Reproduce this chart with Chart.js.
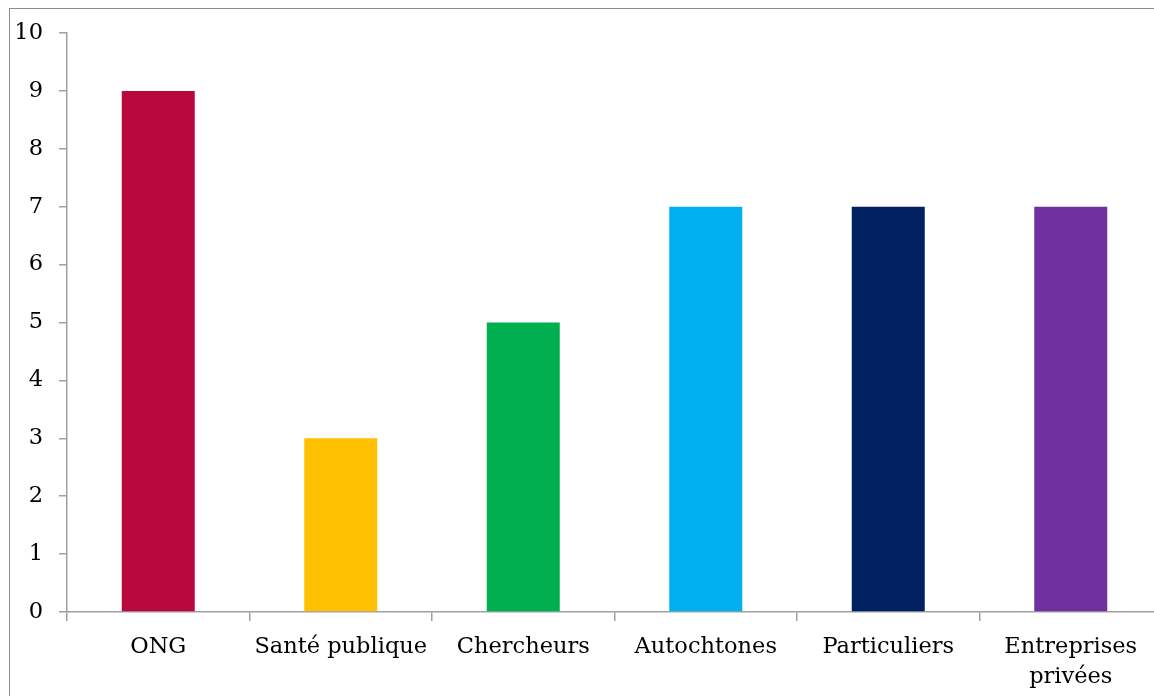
<!DOCTYPE html>
<html lang="fr">
<head>
    <meta charset="UTF-8">
    <title>Acteurs</title>
    <style>
        html, body {
            margin: 0;
            padding: 0;
            overflow: hidden;
            background: #fff;
        }
        #frame {
            position: absolute;
            left: 9px;
            top: 8px;
            width: 1200px;
            height: 760px;
            border: 1.5px solid #8c8c8c;
        }
        #chart-box {
            position: absolute;
            left: 0;
            top: 0;
        }
    </style>
</head>
<body>
    <div id="frame"></div>
    <div id="chart-box">
        <canvas id="chart" width="1190" height="712"></canvas>
    </div>
    <script src="https://cdn.jsdelivr.net/npm/chart.js"></script>
    <script>
        // Chart data
        const categories = ['ONG', 'Santé publique', 'Chercheurs', 'Autochtones', 'Particuliers', ['Entreprises', 'privées']];
        const values = [9, 3, 5, 7, 7, 7];
        const barColors = ['#B8083D', '#FFC000', '#00B050', '#00B0F0', '#002060', '#7030A0'];
        const yTicks = [0, 1, 2, 3, 4, 5, 6, 7, 8, 9, 10];

        const axisColor = '#a0a0a0';
        const labelFont = { family: "'DejaVu Serif', serif", size: 22.5, lineHeight: 1.35 };

        const ctx = document.getElementById('chart').getContext('2d');
        const myChart = new Chart(ctx, {
            type: 'bar',
            data: {
                labels: categories,
                datasets: [{
                    data: values,
                    backgroundColor: barColors,
                    borderWidth: 0,
                    categoryPercentage: 1,
                    barPercentage: 0.4
                }]
            },
            options: {
                responsive: false,
                animation: false,
                layout: {
                    padding: { top: 33, right: 28, left: 0, bottom: 0 }
                },
                plugins: {
                    legend: { display: false },
                    tooltip: { enabled: false }
                },
                scales: {
                    x: {
                        afterFit: scale => { scale.height = 100; },
                        grid: {
                            display: true,
                            drawOnChartArea: false,
                            drawTicks: true,
                            tickLength: 9,
                            color: axisColor,
                            lineWidth: 1.5
                        },
                        border: { display: true, color: axisColor, width: 1.5 },
                        ticks: {
                            color: '#000',
                            font: labelFont,
                            padding: 11,
                            maxRotation: 0,
                            autoSkip: false
                        }
                    },
                    y: {
                        min: 0,
                        max: 10,
                        afterFit: scale => { scale.width = 67; },
                        afterBuildTicks: scale => {
                            scale.ticks = yTicks.map(v => ({ value: v }));
                        },
                        grid: {
                            display: true,
                            drawOnChartArea: false,
                            drawTicks: true,
                            tickLength: 8,
                            color: axisColor,
                            lineWidth: 1.5
                        },
                        border: { display: true, color: axisColor, width: 1.5 },
                        ticks: {
                            color: '#000',
                            font: labelFont,
                            padding: 16
                        }
                    }
                }
            }
        });
    </script>
</body>
</html>
